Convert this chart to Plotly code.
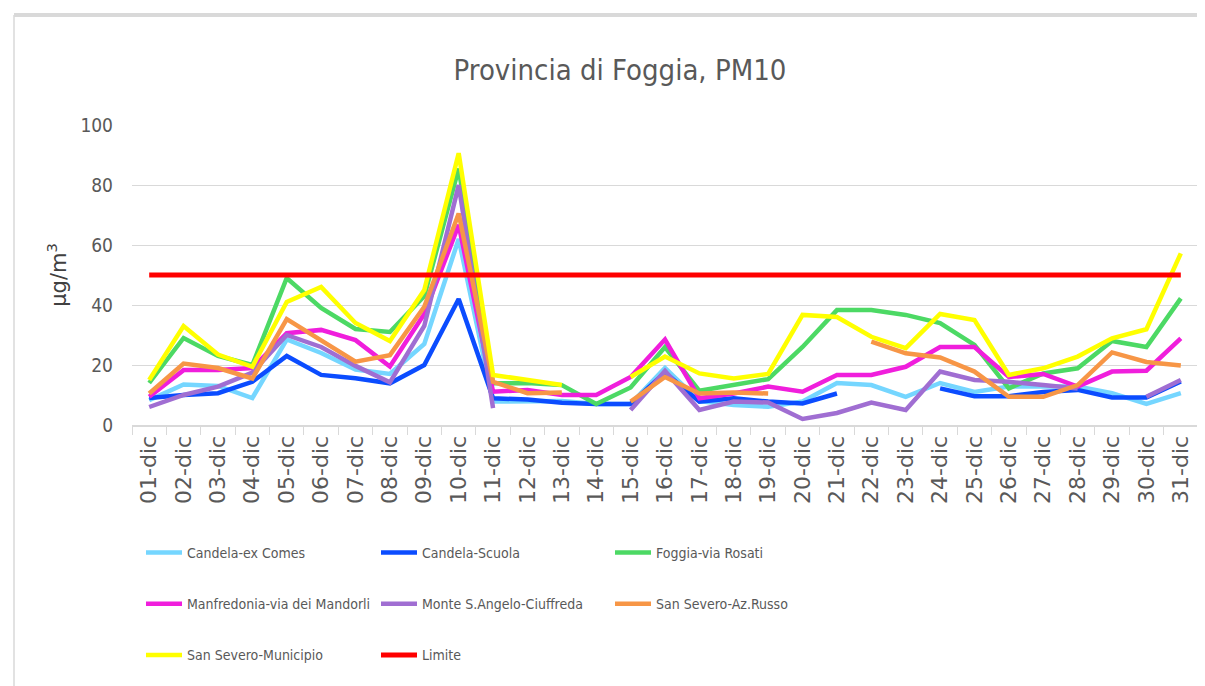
import plotly.graph_objects as go

days = [f"{d:02d}-dic" for d in range(1, 32)]

candela_ex_comes = [8.3, 13.5, 13, 9, 28.5, 24, 18.5, 17, 27, 62, 7.8, 7.8, 8, 7, 7, 19, 8, 6.7, 6.1, 7.8,
                    14, 13.3, 9.4, 14, 11, 12.8, 12.8, 12.8, 10.6, 7, 10.6]
candela_scuola = [9, 10, 10.6, 14.4, 23, 16.7, 15.6, 13.9, 20, 42, 8.9, 8.5, 7.4, 7, 7, 17.5, 7.8, 8.9, 7.8, 7.2,
                  10.5, None, None, 12.2, 9.6, 9.6, 11, 11.7, 9.2, 9.2, 14.5]
foggia_rosati = [14, 29, 23, 20, 49, 39, 32, 31, 43, 85.5, 13.9, 14, 13.3, 7, 12.5, 26, 11.4, 13.3, 15.3, 26,
                 38.3, 38.3, 36.7, 34, 26.7, 12.2, 17.2, 18.9, 28, 26, 42.2]
manfredonia = [9.4, 18.3, 18.3, 19, 30.6, 31.7, 28.3, 19.5, 37, 66.7, 11.1, 11.7, 10, 10, 16, 28.5, 8.9, 10.5, 12.8, 11.1,
               16.7, 16.7, 19.4, 26, 26, 16, 17, 12.8, 17.8, 18.1, 28.9]
monte_s_angelo = [6, 10, 12.8, 17.5, 30, 26, 19.7, 14.2, 33, 80, 5.6, None, None, None, 5, 18, 5, 7.8, 7.5, 2,
                  4, 7.5, 5, 17.8, 15, 14.4, 13.3, 12.2, None, 9.4, 15]
san_severo_russo = [10.5, 20.5, 19, 15.5, 35.3, 28.3, 21.1, 23.3, 39.4, 70.5, 14.4, 10.6, 10.8, None, 7.8, 16, 10.5, 10.8, 10.5, None,
                    None, 27.8, 23.9, 22.5, 17.8, 9.4, 9.4, 13.3, 24.2, 21, 19.8]
san_severo_municipio = [15, 33, 23.5, 19.4, 41, 46, 34, 28, 45, 90.6, 16.7, 15, 13.3, None, 16, 22.8, 17.2, 15.5, 17, 36.7,
                        36, 29.4, 25.6, 37, 35, 16.7, 18.9, 22.8, 28.9, 31.9, 57.2]
limite = [50] * 31

series = [
    ("Candela-ex Comes", candela_ex_comes, "#75D6FF", "legend"),
    ("Candela-Scuola", candela_scuola, "#0B4CFF", "legend2"),
    ("Foggia-via Rosati", foggia_rosati, "#4CD964", "legend3"),
    ("Manfredonia-via dei Mandorli", manfredonia, "#F01EDC", "legend"),
    ("Monte S.Angelo-Ciuffreda", monte_s_angelo, "#A06ED2", "legend2"),
    ("San Severo-Az.Russo", san_severo_russo, "#F79646", "legend3"),
    ("San Severo-Municipio", san_severo_municipio, "#FFFF00", "legend"),
    ("Limite", limite, "#FF0000", "legend2"),
]

fig = go.Figure()
for name, vals, color, leg in series:
    fig.add_trace(go.Scatter(
        x=days, y=vals, name=name, mode="lines",
        line=dict(color=color, width=5 if name == "Limite" else 4.5),
        connectgaps=False, legend=leg, legendgroup=name,
    ))

# page body has an 8px margin: figure coordinates are reference pixels minus 8
OFF = 8
W, H = 1205 - OFF, 686 - OFF
L, T = 132 - OFF, 125 - OFF
pw, ph = 1066, 300
R = W - L - pw
B = H - T - ph

def px_x(X):
    return (X - OFF - L) / pw

def px_y(Y):
    return (T + ph - (Y - OFF)) / ph

font_c = "DejaVu Sans Condensed, Liberation Sans Narrow, DejaVu Sans, sans-serif"
gray = "#595959"

leg_common = dict(orientation="v", xanchor="left", yanchor="top",
                  font=dict(family=font_c, size=14, color=gray),
                  tracegroupgap=30, bgcolor="rgba(0,0,0,0)", itemwidth=36)

fig.update_layout(
    width=W, height=H,
    margin=dict(l=L, r=R, t=T, b=B),
    paper_bgcolor="white", plot_bgcolor="white",
    title=dict(text="Provincia di Foggia, PM10", x=(620 - OFF) / W, xanchor="center",
               y=1 - (70 - OFF) / H, yanchor="middle",
               font=dict(family=font_c, size=29, color=gray)),
    xaxis=dict(type="category", range=[-0.5, 30.5], showgrid=False,
               showline=True, linecolor="#D9D9D9", linewidth=2,
               ticks="outside", tickson="boundaries", ticklen=8, tickcolor="#D9D9D9",
               tickangle=-90, tickfont=dict(family="DejaVu Sans, sans-serif", size=22, color=gray)),
    yaxis=dict(range=[0, 100], dtick=20, showgrid=True, gridcolor="#D9D9D9", gridwidth=1,
               zeroline=False, showline=False, ticks="", ticklabelstandoff=18,
               tickfont=dict(family=font_c, size=19, color=gray),
               title=dict(text="µg/m<sup>3</sup>", standoff=8,
                          font=dict(family="DejaVu Sans, sans-serif", size=21, color="#404040"))),
    legend=dict(x=px_x(141), y=px_y(537), **leg_common),
    legend2=dict(x=px_x(376), y=px_y(537), **leg_common),
    legend3=dict(x=px_x(610), y=px_y(537), **leg_common),
    showlegend=True,
    shapes=[
        dict(type="line", xref="paper", yref="paper", x0=px_x(14), x1=px_x(1205), y0=px_y(15), y1=px_y(15),
             line=dict(color="#D9D9D9", width=4)),
        dict(type="line", xref="paper", yref="paper", x0=px_x(14), x1=px_x(14), y0=px_y(15), y1=px_y(686),
             line=dict(color="#D9D9D9", width=1.5)),
    ],
)

fig.write_html("out.html")
